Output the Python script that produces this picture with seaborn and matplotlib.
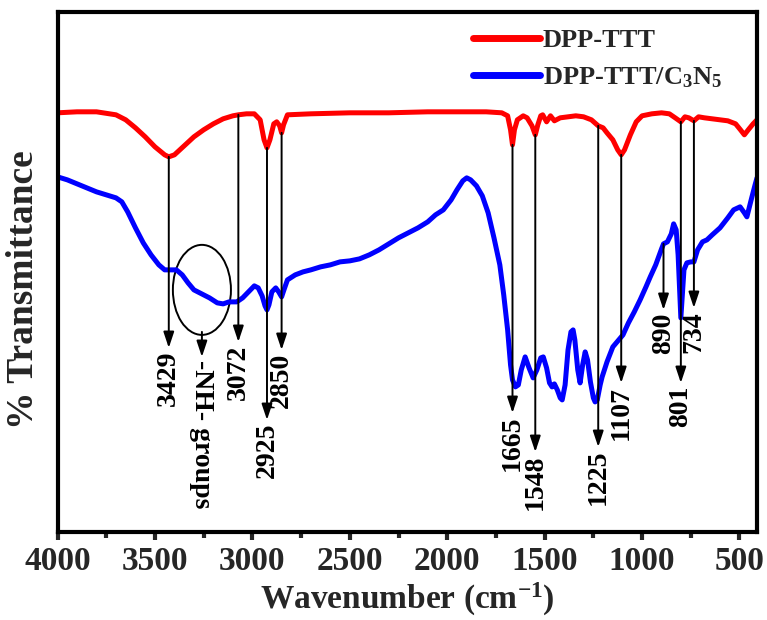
import numpy as np
import pandas as pd
import matplotlib
matplotlib.use("Agg")
import matplotlib.pyplot as plt
from matplotlib.patches import Ellipse
from matplotlib.ticker import MultipleLocator
import seaborn as sns

# ---------------- data ----------------
red_wn = [4000, 3900, 3800, 3700, 3650, 3600, 3550, 3500, 3450, 3429, 3400, 3350, 3300, 3250,
          3200, 3150, 3100, 3072, 3030, 2990, 2960, 2940, 2925, 2910, 2890, 2875, 2860, 2850,
          2840, 2820, 2700, 2500, 2300, 2100, 1900, 1800, 1720, 1690, 1675, 1665, 1655, 1640,
          1610, 1590, 1565, 1548, 1535, 1520, 1510, 1490, 1470, 1450, 1420, 1380, 1340, 1300,
          1260, 1225, 1200, 1180, 1150, 1125, 1107, 1090, 1060, 1030, 1000, 950, 900, 860,
          830, 801, 780, 760, 734, 710, 680, 640, 600, 560, 520, 495, 475, 455, 430, 410]
red_t = [419, 420, 420, 417, 412, 404, 395, 385, 377, 375, 377, 386, 395, 402,
         408, 413, 416, 417, 418, 418, 412, 392, 384, 392, 408, 410, 406, 399,
         407, 417, 418, 419, 419, 420, 420, 420, 419, 416, 402, 387, 402, 412,
         416, 414, 406, 397, 407, 416, 417, 410, 416, 411, 414, 415, 416, 415,
         412, 406, 404, 399, 392, 382, 377, 382, 397, 410, 416, 418, 419, 418,
         414, 410, 415, 414, 411, 415, 414, 413, 412, 411, 408, 402, 397, 402, 408, 412]

blue_wn = [4000, 3950, 3900, 3850, 3800, 3750, 3700, 3670, 3640, 3600, 3560, 3520, 3480, 3450,
           3420, 3390, 3360, 3330, 3300, 3260, 3220, 3180, 3150, 3120, 3080, 3050, 3020, 2990,
           2970, 2950, 2935, 2925, 2915, 2900, 2880, 2865, 2850, 2838, 2820, 2780, 2740, 2700,
           2650, 2600, 2550, 2500, 2450, 2400, 2350, 2300, 2250, 2200, 2150, 2100, 2060, 2020,
           1980, 1950, 1920, 1900, 1880, 1850, 1820, 1790, 1760, 1730, 1710, 1690, 1675, 1665,
           1650, 1635, 1620, 1600, 1580, 1559, 1540, 1520, 1507, 1490, 1475, 1462, 1450, 1435,
           1420, 1410, 1395, 1380, 1365, 1354, 1345, 1330, 1318, 1305, 1292, 1280, 1265, 1250,
           1241, 1230, 1215, 1205, 1180, 1150, 1120, 1098, 1070, 1040, 1010, 980, 958, 930,
           900, 890, 870, 850, 838, 825, 815, 805, 801, 795, 785, 770, 750, 734, 715, 690,
           667, 640, 600, 560, 530, 497, 475, 462, 440, 420, 410]
blue_t = [355, 352, 348, 344, 340, 337, 334, 330, 320, 304, 289, 277, 267, 262,
          262, 262, 257, 249, 242, 238, 234, 229, 228, 230, 230, 234, 240, 246,
          244, 236, 226, 222, 227, 240, 244, 240, 235, 242, 252, 257, 260, 262,
          265, 267, 270, 271, 273, 277, 282, 288, 294, 299, 304, 310, 317, 322,
          332, 342, 351, 354, 352, 346, 336, 319, 294, 267, 237, 202, 167, 152,
          145, 147, 162, 175, 164, 154, 162, 174, 175, 164, 149, 145, 148, 142,
          134, 132, 147, 182, 200, 202, 192, 162, 149, 167, 180, 172, 150, 134,
          130, 132, 147, 155, 170, 185, 192, 197, 209, 220, 232, 245, 255, 267,
          283, 288, 290, 298, 308, 302, 277, 232, 214, 232, 262, 269, 270, 270, 282, 290,
          292, 297, 304, 314, 322, 325, 319, 315, 332, 347, 354]

series_names = ["DPP-TTT", "DPP-TTT/C$_3$N$_5$"]

# band annotations: wavenumber, arrow start (a.u.), arrow tip (a.u.), label, text rotation
peak_wn = [3429, 3259, 3072, 2925, 2850, 1665, 1548, 1225, 1107, 890, 801, 734]
peak_start = [375, 200, 417, 384, 399, 387, 397, 406, 377, 288, 410, 411]
peak_tip = [184, 175, 190, 112, 182, 119, 80, 85, 149, 222, 149, 224]
peak_labels = ["3429", "-NH- groups", "3072", "2925", "2850", "1665", "1548",
               "1225", "1107", "890", "801", "734"]
peak_rot = [90, 270, 90, 90, 90, 90, 90, 90, 90, 90, 90, 90]

xticks = [4000, 3500, 3000, 2500, 2000, 1500, 1000, 500]

# ---------------- plotting ----------------
sns.set_style("white")
plt.rcParams["font.family"] = ["Liberation Serif", "DejaVu Serif"]
plt.rcParams["font.weight"] = "bold"
plt.rcParams["mathtext.fontset"] = "custom"
plt.rcParams["mathtext.rm"] = "Liberation Serif:bold"
plt.rcParams["mathtext.it"] = "Liberation Serif:bold"
plt.rcParams["mathtext.bf"] = "Liberation Serif:bold"

df = pd.concat([
    pd.DataFrame({"wn": red_wn, "T": red_t, "sample": series_names[0]}),
    pd.DataFrame({"wn": blue_wn, "T": blue_t, "sample": series_names[1]}),
])

fig = plt.figure(figsize=(7.67, 6.2), dpi=100)
ax = fig.add_axes([0.075, 0.142, 0.912, 0.839])

sns.lineplot(data=df, x="wn", y="T", hue="sample", sort=False, estimator=None,
             palette=["#ff0000", "#0000ff"], linewidth=3.6, ax=ax)

ax.set_xlim(4000, 410)
ax.set_ylim(0, 520)
ax.set_xticks(xticks)
ax.set_xticklabels([str(t) for t in xticks])
ax.xaxis.set_minor_locator(MultipleLocator(250))
ax.set_yticks([])
ax.tick_params(axis="x", which="major", direction="out", length=6, width=3,
               labelsize=24, pad=4, bottom=True)
ax.tick_params(axis="x", which="minor", direction="out", length=4, width=3, bottom=True)
for lab in ax.get_xticklabels():
    lab.set_fontweight("bold")
for s in ax.spines.values():
    s.set_linewidth(3)
    s.set_color("black")

ax.set_xlabel("Wavenumber (cm$^{-1}$)", fontsize=24, fontweight="bold", labelpad=3)
ax.set_ylabel("% Transmittance", fontsize=27, fontweight="bold")
ax.yaxis.set_label_coords(-0.024, 0.465)

# arrows and labels
for wn, y0, y1, lab, rot in zip(peak_wn, peak_start, peak_tip, peak_labels, peak_rot):
    ax.annotate("", xy=(wn, y1), xytext=(wn, y0),
                arrowprops=dict(arrowstyle="-|>,head_length=0.6,head_width=0.2",
                                color="black", lw=1.4,
                                mutation_scale=16, shrinkA=0, shrinkB=0))
    ax.text(wn, y1 - 3, lab, rotation=rot, ha="center", va="top",
            fontsize=20, fontweight="bold", color="black")

ax.add_patch(Ellipse((3259, 242), width=298, height=90, fill=False,
                     edgecolor="black", lw=1.4))

leg = ax.legend(loc="upper left", bbox_to_anchor=(0.594, 0.967), frameon=False,
                handlelength=2.55, handletextpad=0.1, labelspacing=0.5,
                borderaxespad=0, borderpad=0,
                prop={"weight": "bold", "size": 19})
for line in leg.get_lines():
    line.set_linewidth(5)

fig.savefig("out.png", dpi=100)
